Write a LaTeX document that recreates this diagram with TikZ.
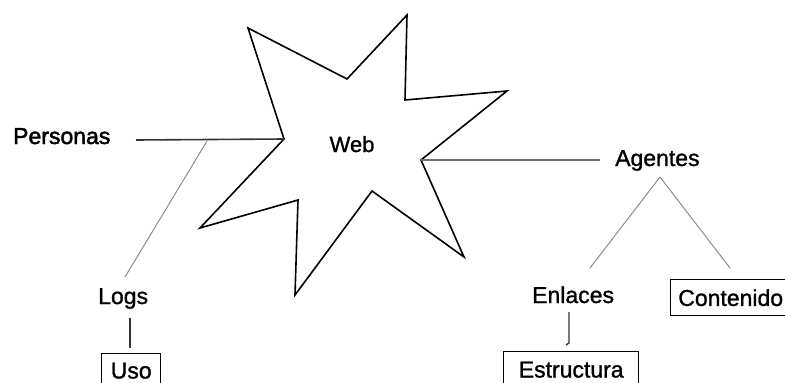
\documentclass[tikz,border=0pt]{standalone}
\usepackage{fontspec}
\setmainfont[FakeBold=1.2]{Liberation Sans}
\newfontfamily\heavyfont[FakeBold=2]{Liberation Sans}
\begin{document}
\begin{tikzpicture}[x=1pt,y=-1pt,
  lbl/.style={font=\fontsize{23}{27}\selectfont, inner sep=0pt, anchor=base west},
  boxed/.style={draw, line width=1.4pt, font=\fontsize{23}{27}\selectfont, inner sep=0pt, anchor=north west},
  starline/.style={line width=1.6pt, line join=miter},
  darkcon/.style={line width=1.6pt, draw=black!80},
  midcon/.style={line width=1.3pt, draw=black!55},
  lightcon/.style={line width=1pt, draw=black!45}]
\useasboundingbox (0,0) rectangle (785,383);
\clip (0,0) rectangle (785,383);

% star
\draw[starline] (248,28) -- (347,79) -- (407,15) -- (405,100) -- (507,91) -- (421,160)
  -- (464,257) -- (372,191) -- (295,295) -- (298,200) -- (200,228) -- (284,139) -- cycle;
\coordinate (starL) at (284,139);
\coordinate (starR) at (421,160);
\node[font=\fontsize{22}{26}\selectfont, inner sep=0pt, anchor=base] (web) at (352,152) {Web};

% labels
\node[lbl, font=\heavyfont\fontsize{23}{27}\selectfont] (pers) at (13,144) {Personas};
\node[lbl] (agen) at (615,166) {Agentes};
\node[lbl] (logs) at (98,304) {Logs};
\node[lbl] (enla) at (532,303) {Enlaces};

% boxes
\node[boxed, minimum width=59pt, minimum height=34pt] (uso) at (101,353) {Uso};
\node[boxed, minimum width=135pt, minimum height=36pt] (estr) at (503,351) {Estructura};
\node[boxed, minimum width=120pt, minimum height=36pt] (cont) at (670,279) {Contenido};

% connector end points
\coordinate (persR) at (136,140);
\coordinate (persJ) at (207,141);
\coordinate (logsT) at (125,277);
\coordinate (agenL) at (600,160);
\coordinate (agenB) at (660,177);
\coordinate (enlaT) at (590,268);
\coordinate (contT) at (730,268);
\coordinate (logsB) at (130,318);
\coordinate (usoT) at (130,348);
\coordinate (enlaB) at (569,312);
\coordinate (estrT) at (569,343);
\coordinate (estrH) at (566,345);

% connectors
\draw[darkcon] (persR) -- (starL);
\draw[lightcon] (persJ) -- (logsT);
\draw[midcon] (starR) -- (agenL);
\draw[lightcon] (agenB) -- (enlaT);
\draw[lightcon] (agenB) -- (contT);
\draw[darkcon, line width=1.3pt] (logsB) -- (usoT);
\draw[darkcon, line width=1.3pt] (enlaB) -- (estrT) -- (estrH);
\end{tikzpicture}
\end{document}
